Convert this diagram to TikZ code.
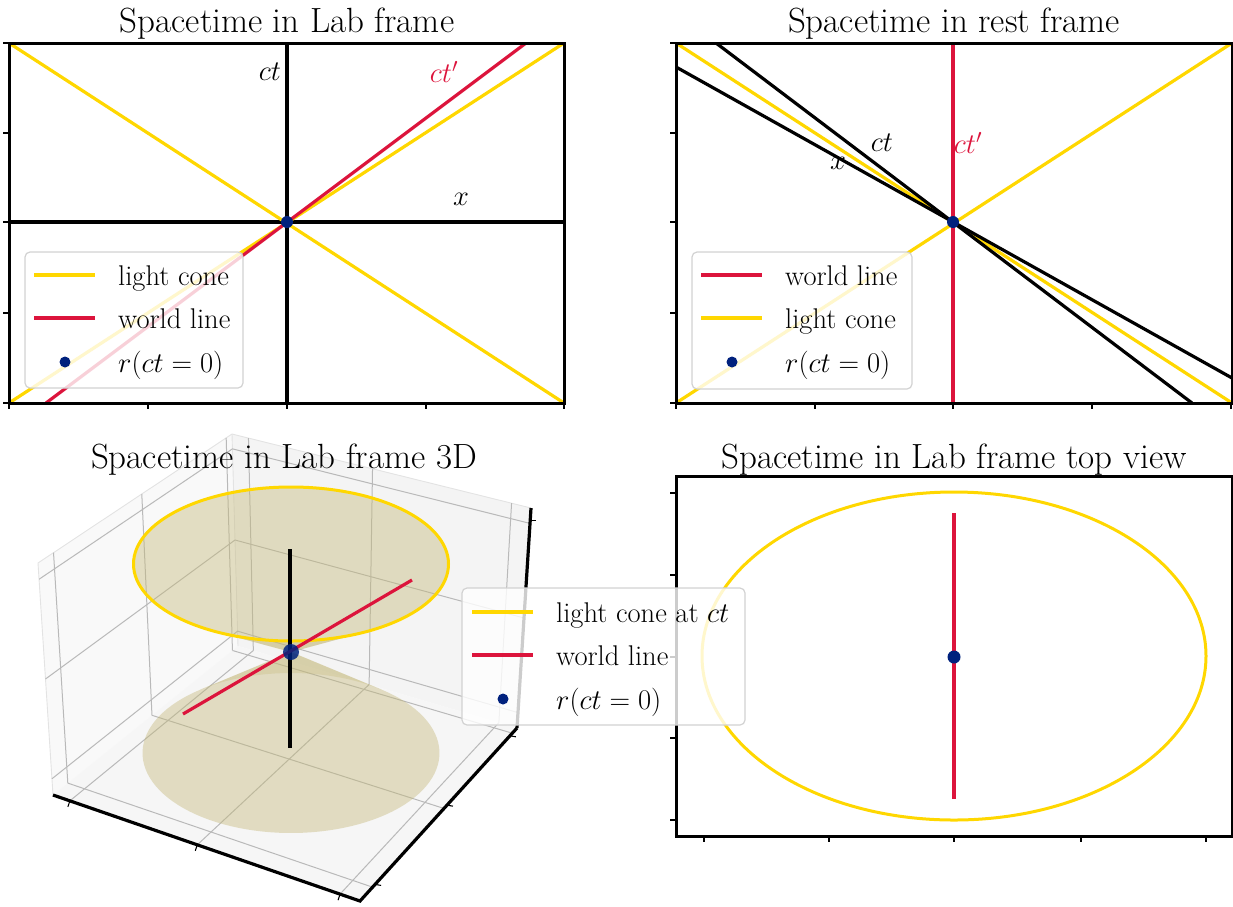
\RequirePackage{fix-cm}
\documentclass[tikz,border=0pt]{standalone}
\usetikzlibrary{calc}
\definecolor{gold}{RGB}{255,215,0}
\definecolor{crimson}{RGB}{220,20,60}
\definecolor{navyd}{RGB}{0,33,125}
\definecolor{conefill}{RGB}{196,184,120}
\begin{document}
\begin{tikzpicture}[x=1pt,y=-1pt,
  axframe/.style={line width=3pt, black},
  ln/.style={line width=3.2pt},
  lc/.style={ln, gold},
  wl/.style={ln, crimson},
  axline/.style={ln, black},
  tk/.style={line width=1.5pt, black},
  ttl/.style={font=\fontsize{35}{40}\selectfont, inner sep=0pt},
  axlab/.style={font=\fontsize{28.5}{33}\selectfont, inner sep=0pt},
  legbox/.style={draw=gray!35, line width=1.2pt, fill=white, fill opacity=0.8, rounded corners=5pt},
  ptdot/.style={circle, fill=navyd, inner sep=0pt, minimum size=12pt},
  pane/.style={draw=gray!22, line width=0.9pt},
  gridd/.style={draw=gray!55, line width=1pt},
]
\useasboundingbox (0,0) rectangle (1233,906);

% ================= Panel 1: Lab frame =================
\begin{scope}
  \clip (9,43) rectangle (564,403);
  \draw[axline] (287,43) -- (287,403);
  \draw[axline] (9,222) -- (564,222);
  \draw[lc] (9,43) -- (564,403);
  \draw[lc] (9,403) -- (564,43);
  \draw[wl] (46,403) -- (526,43);
\end{scope}
\draw[axframe] (9,43) rectangle (564,403);
\foreach \yy in {43,133,222,313,403} \draw[tk] (9,\yy) -- (3,\yy);
\foreach \xx in {9,148,287,426,564} \draw[tk] (\xx,403) -- (\xx,409);
\node[ptdot] (o1) at (287,222) {};
\node[axlab] (ct1) at (270,72) {$ct$};
\node[axlab, text=crimson] (ctp1) at (444,72) {$ct'$};
\node[axlab] (x1) at (461,199) {$x$};
\node[ttl, anchor=base] (t1) at (287,32) {Spacetime in Lab frame};
\draw[legbox] (25,252) rectangle (243,388);
\draw[lc] (34,275) -- (95,275);
\node[axlab, anchor=base west] (l1a) at (118,285) {light cone};
\draw[wl] (34,318) -- (95,318);
\node[axlab, anchor=base west] (l1b) at (118,328) {world line};
\node[ptdot, minimum size=11pt] (l1d) at (65,362) {};
\node[axlab, anchor=base west] (l1c) at (118,372) {$r(ct=0)$};

% ================= Panel 2: rest frame =================
\begin{scope}
  \clip (676,43) rectangle (1232,403);
  \draw[lc] (676,43) -- (1232,403);
  \draw[lc] (676,403) -- (1232,43);
  \draw[axline] (716,43) -- (1192,403);
  \draw[axline] (676,67) -- (1232,378);
  \draw[wl] (953,43) -- (953,403);
\end{scope}
\draw[axframe] (676,43) rectangle (1232,403);
\foreach \yy in {43,133,222,313,403} \draw[tk] (676,\yy) -- (670,\yy);
\foreach \xx in {676,815,953,1092,1231} \draw[tk] (\xx,403) -- (\xx,409);
\node[ptdot] (o2) at (953,222) {};
\node[axlab] (ct2) at (882,143) {$ct$};
\node[axlab] (x2) at (838,163) {$x$};
\node[axlab, text=crimson] (ctp2) at (968,143) {$ct'$};
\node[ttl, anchor=base] (t2) at (954,32) {Spacetime in rest frame};
\draw[legbox] (692,252) rectangle (912,389);
\draw[wl] (701,275) -- (762,275);
\node[axlab, anchor=base west] (l2a) at (785,285) {world line};
\draw[lc] (701,318) -- (762,318);
\node[axlab, anchor=base west] (l2b) at (785,328) {light cone};
\node[ptdot, minimum size=11pt] (l2d) at (732,362) {};
\node[axlab, anchor=base west] (l2c) at (785,372) {$r(ct=0)$};

% ================= Panel 3: 3D =================
\coordinate (L) at (53,795);
\coordinate (F) at (360,901);
\coordinate (R) at (517,728);
\coordinate (K) at (238,646);
\coordinate (Lt) at (38,563);
\coordinate (Kt) at (232,434);
\coordinate (Rt) at (531,508);
\fill[gray!5] (L) -- (Lt) -- (Kt) -- (K) -- cycle;
\fill[gray!9] (K) -- (Kt) -- (Rt) -- (R) -- cycle;
\fill[gray!7] (L) -- (K) -- (R) -- (F) -- cycle;
\draw[pane] (L) -- (Lt) -- (Kt) -- (Rt);
\draw[pane] (K) -- (Kt);
\foreach \s in {0.08,0.535,0.97} {
  \draw[gridd] ($(L)!\s!(K)$) -- ($(Lt)!\s!(Kt)$);
  \draw[gridd] ($(L)!\s!(K)$) -- ($(F)!\s!(R)$);
}
\foreach \t in {0.055,0.47,0.935} {
  \draw[gridd] ($(K)!\t!(R)$) -- ($(Kt)!\t!(Rt)$);
  \draw[gridd] ($(K)!\t!(R)$) -- ($(L)!\t!(F)$);
}
\foreach \h in {0.07,0.5,0.93} {
  \draw[gridd] ($(L)!\h!(Lt)$) -- ($(K)!\h!(Kt)$) -- ($(R)!\h!(Rt)$);
}
% lower cone
\fill[conefill, opacity=0.42] plot[domain=-52.4:232.4, samples=90] ({291+148.5*cos(\x)},{753+80*sin(\x)}) -- (291,652) -- cycle;
\fill[conefill, opacity=0.3] plot[domain=-127.6:-52.4, samples=30] ({291+148.5*cos(\x)},{753+80*sin(\x)}) -- (291,652) -- cycle;
% upper cone
\fill[conefill, opacity=0.42] plot[domain=119:421, samples=90] ({291+157.5*cos(\x)},{564+77*sin(\x)}) -- (291,652) -- cycle;
\fill[conefill, opacity=0.35] plot[domain=61:119, samples=30] ({291+157.5*cos(\x)},{564+77*sin(\x)}) -- (291,652) -- cycle;
\draw[gold, line width=3pt] (291,564) ellipse [x radius=157.5pt, y radius=77pt];
% axes
\draw[axline] (L) -- (F) -- (R);
\draw[axline] (R) -- (Rt);
\foreach \t in {0.055,0.47,0.935} \draw[tk, line width=1.1pt] ($(L)!\t!(F)$) -- ++(-2,6);
\foreach \t in {0.096,0.554,0.955} \draw[tk, line width=1.1pt] ($(F)!\t!(R)$) -- ++(6,1);
\draw[tk, line width=1.1pt] ($(R)!0.945!(Rt)$) -- ++(6,0);
% lines
\draw[black, line width=3.2pt] (290,549) -- (290,748);
\draw[wl] (183,714) -- (412,580);
\node[ptdot, minimum size=16pt, fill opacity=0.85] (o3) at (291,652) {};
\node[ttl, anchor=base] (t3) at (284,468) {Spacetime in Lab frame 3D};

% ================= Panel 4: top view =================
\draw[gold, line width=3pt] (954,656) ellipse [x radius=252pt, y radius=164pt];
\draw[wl] (954,513) -- (954,799);
\node[ptdot, minimum size=13pt] (o4) at (954,657) {};
\draw[axframe] (676,476) rectangle (1232,836);
\foreach \yy in {493,575,657,738,820} \draw[tk] (676,\yy) -- (670,\yy);
\foreach \xx in {704,829,954,1081,1206} \draw[tk] (\xx,836) -- (\xx,842);
\node[ttl, anchor=base] (t4) at (954,468) {Spacetime in Lab frame top view};

% ================= 3D legend =================
\draw[legbox] (462,588) rectangle (745,725);
\draw[lc] (472,612) -- (533,612);
\node[axlab, anchor=base west] (l3a) at (556,622) {light cone at $ct$};
\draw[wl] (472,655) -- (533,655);
\node[axlab, anchor=base west] (l3b) at (556,665) {world line};
\node[ptdot, minimum size=11pt] (l3d) at (503,699) {};
\node[axlab, anchor=base west] (l3c) at (556,709) {$r(ct=0)$};
\end{tikzpicture}
\end{document}
